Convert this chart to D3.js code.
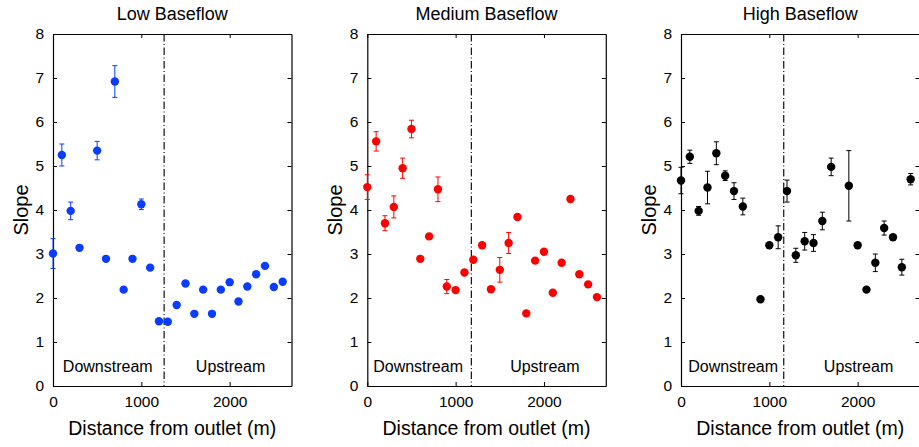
<!DOCTYPE html>
<html>
<head>
<meta charset="utf-8">
<script src="https://cdn.jsdelivr.net/npm/d3@7"></script>
<style>
  body { margin: 0; background: #fff; }
  svg { display: block; font-family: "Liberation Sans", Arial, Helvetica, sans-serif; }
</style>
</head>
<body>
<svg id="chart" width="919" height="447"></svg>
<script>
// distance from outlet (m) for each sampled reach
const lowDist = [0, 100, 200, 300, 500, 600, 700, 800, 900, 1000, 1100, 1200, 1300, 1400,
  1500, 1600, 1700, 1800, 1900, 2000, 2100, 2200, 2300, 2400, 2500, 2600];
const lowSlope = [3.01, 5.25, 3.98, 3.14, 5.35, 2.89, 6.92, 2.19, 2.89, 4.13, 2.69, 1.47, 1.46, 1.84,
  2.33, 1.64, 2.19, 1.64, 2.19, 2.36, 1.92, 2.26, 2.54, 2.73, 2.25, 2.37];
const lowErr = [0.34, 0.25, 0.2, 0, 0.21, 0, 0.36, 0, 0, 0.12, 0, 0, 0, 0,
  0, 0, 0, 0, 0, 0, 0, 0, 0, 0, 0, 0];

const medDist = [0, 100, 200, 300, 400, 500, 600, 700, 800, 900, 1000, 1100, 1200, 1300,
  1400, 1500, 1600, 1700, 1800, 1900, 2000, 2100, 2200, 2300, 2400, 2500, 2600];
const medSlope = [4.52, 5.56, 3.70, 4.07, 4.95, 5.84, 2.89, 3.40, 4.47, 2.26, 2.18, 2.58, 2.87, 3.20,
  2.20, 2.64, 3.25, 3.84, 1.65, 2.85, 3.05, 2.12, 2.80, 4.25, 2.54, 2.31, 2.02];
const medErr = [0.28, 0.22, 0.17, 0.25, 0.23, 0.2, 0, 0, 0.28, 0.16, 0, 0, 0, 0,
  0, 0.28, 0.24, 0, 0, 0, 0, 0, 0, 0, 0, 0, 0];

const highDist = [0, 100, 200, 300, 400, 500, 600, 700, 900, 1000, 1100, 1200, 1300,
  1400, 1500, 1600, 1700, 1900, 2000, 2100, 2200, 2300, 2400, 2500, 2600];
const highSlope = [4.67, 5.21, 3.98, 4.51, 5.29, 4.78, 4.43, 4.08, 1.97, 3.20, 3.38, 4.43, 2.97,
  3.29, 3.25, 3.75, 4.98, 4.55, 3.20, 2.19, 2.80, 3.59, 3.38, 2.70, 4.70];
const highErr = [0.3, 0.15, 0.1, 0.37, 0.26, 0.11, 0.19, 0.19, 0, 0, 0.26, 0.25, 0.16,
  0.2, 0.19, 0.2, 0.2, 0.8, 0, 0, 0.2, 0.16, 0, 0.18, 0.13];

const titles = ['Low Baseflow', 'Medium Baseflow', 'High Baseflow'];
const colors = ['#0a3cff', '#ff0000', '#000000'];
// boundary between downstream and upstream reaches (m)
const boundaries = [1258, 1178, 1163];
const yTicks = [0, 1, 2, 3, 4, 5, 6, 7, 8];
const xTicks = [0, 1000, 2000];

const panels = [
  { dist: lowDist, slope: lowSlope, err: lowErr, left: 53, downAt: 620 },
  { dist: medDist, slope: medSlope, err: medErr, left: 367.3, downAt: 575 },
  { dist: highDist, slope: highSlope, err: highErr, left: 681, downAt: 590 },
];

const yTop = 34, yBottom = 386, plotW = 238.5, tick = 4;
const svg = d3.select('#chart');

panels.forEach((p, i) => {
  const x = d3.scaleLinear().domain([0, 2700]).range([p.left, p.left + plotW]);
  const y = d3.scaleLinear().domain([0, 8]).range([yBottom, yTop]);
  const g = svg.append('g');
  const color = colors[i];

  // axes, MATLAB style: ticks pointing in on all four sides
  g.append('g').attr('transform', `translate(0,${yBottom})`)
    .call(d3.axisBottom(x).tickValues(xTicks).tickFormat(d3.format('d'))
      .tickSizeInner(-tick).tickSizeOuter(0).tickPadding(10));
  g.append('g').attr('transform', `translate(0,${yTop})`)
    .call(d3.axisTop(x).tickValues(xTicks).tickSizeInner(-tick).tickSizeOuter(0).tickFormat(''));
  g.append('g').attr('transform', `translate(${p.left},0)`)
    .call(d3.axisLeft(y).tickValues(yTicks).tickSizeInner(-tick).tickSizeOuter(0).tickPadding(9));
  g.append('g').attr('transform', `translate(${p.left + plotW},0)`)
    .call(d3.axisRight(y).tickValues(yTicks).tickSizeInner(-tick).tickSizeOuter(0).tickFormat(''));

  g.selectAll('.domain').attr('stroke', '#000').attr('stroke-width', 1.2);
  g.selectAll('.tick line').attr('stroke', '#000');
  g.selectAll('.tick text').attr('fill', '#000').attr('font-size', 15.5)
    .attr('font-family', '"Liberation Sans", Arial, sans-serif');

  // downstream / upstream divider
  g.append('line')
    .attr('x1', x(boundaries[i])).attr('x2', x(boundaries[i]))
    .attr('y1', yTop).attr('y2', yBottom)
    .attr('stroke', '#111').attr('stroke-width', 1.2)
    .attr('stroke-dasharray', '7.5,2.5,1,2.5');

  g.append('text').text('Downstream')
    .attr('x', x(p.downAt)).attr('y', 372)
    .attr('text-anchor', 'middle').attr('font-size', 16);
  g.append('text').text('Upstream')
    .attr('x', x(2010)).attr('y', 372)
    .attr('text-anchor', 'middle').attr('font-size', 16);

  const pts = p.dist.map((d, k) => ({ d, s: p.slope[k], e: p.err[k] }));

  // error bars
  const bars = g.selectAll('.err').data(pts.filter(({ e }) => e > 0))
    .enter().append('g').classed('err', true)
    .attr('stroke', color).attr('stroke-width', 1);
  bars.append('line')
    .attr('x1', ({ d }) => x(d)).attr('x2', ({ d }) => x(d))
    .attr('y1', ({ s, e }) => y(s + e)).attr('y2', ({ s, e }) => y(s - e));
  [1, -1].forEach((sign) => {
    bars.append('line')
      .attr('x1', ({ d }) => x(d) - 2.5).attr('x2', ({ d }) => x(d) + 2.5)
      .attr('y1', ({ s, e }) => y(s + sign * e)).attr('y2', ({ s, e }) => y(s + sign * e));
  });

  g.selectAll('.dot').data(pts)
    .enter().append('circle').classed('dot', true)
    .attr('cx', ({ d }) => x(d)).attr('cy', ({ s }) => y(s))
    .attr('r', 4.2).attr('fill', color);

  const cx = p.left + plotW / 2;
  g.append('text').text(titles[i])
    .attr('x', cx).attr('y', 20).attr('text-anchor', 'middle').attr('font-size', 18);
  g.append('text').text('Distance from outlet (m)')
    .attr('x', cx).attr('y', 435).attr('text-anchor', 'middle').attr('font-size', 19.5);
  g.append('text').text('Slope')
    .attr('transform', `translate(${p.left - 25},${(yTop + yBottom) / 2}) rotate(-90)`)
    .attr('text-anchor', 'middle').attr('font-size', 20);
});
</script>
</body>
</html>
